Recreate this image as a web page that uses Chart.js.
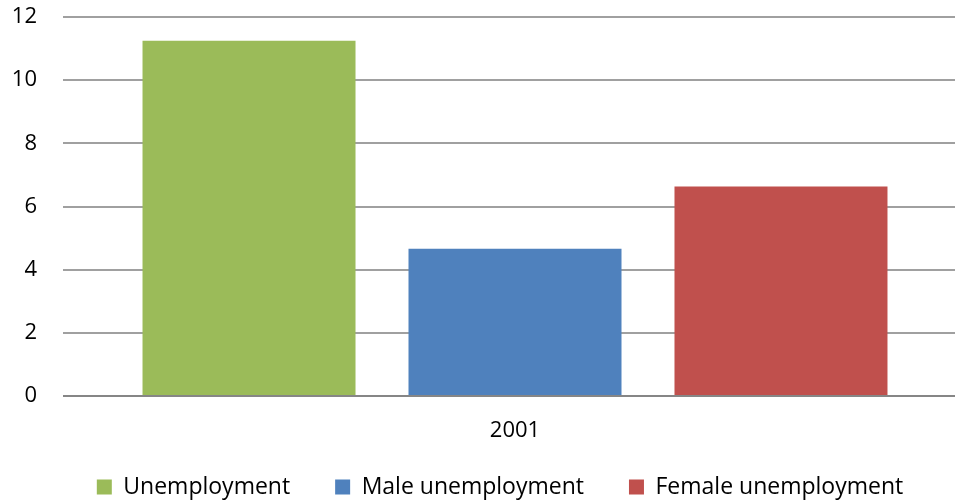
<!DOCTYPE html>
<html>
<head>
<meta charset="utf-8">
<script src="https://cdn.jsdelivr.net/npm/chart.js@4/dist/chart.umd.min.js"></script>
<style>
  html, body { margin: 0; padding: 0; background: #fff; overflow: hidden; width: 955px; height: 501px; }
  #wrap { position: relative; width: 967px; height: 501px; }
</style>
</head>
<body>
<div id="wrap"><canvas id="c" width="967" height="501"></canvas></div>
<script>
const categories = ["2001"];
const seriesNames = ["Unemployment", "Male unemployment", "Female unemployment"];
const unemployment = [11.25];
const maleUnemployment = [4.66];
const femaleUnemployment = [6.63];
const yTicks = [0, 2, 4, 6, 8, 10, 12];

const colors = ["#9BBB59", "#4F81BD", "#C0504D"];
const FONT = "'Open Sans', 'Liberation Sans', sans-serif";

// Nudge the legend into the spot it occupies in the reference (below the axis label).
const legendNudge = {
  id: 'legendNudge',
  afterLayout(chart) {
    const lg = chart.legend;
    if (!lg) return;
    lg.top -= 40.5;
    lg.left += 16.5;
    lg.right += 16.5;
  }
};

new Chart(document.getElementById('c'), {
  type: 'bar',
  data: {
    labels: categories,
    datasets: [
      { label: seriesNames[0], data: unemployment, backgroundColor: colors[0] },
      { label: seriesNames[1], data: maleUnemployment, backgroundColor: colors[1] },
      { label: seriesNames[2], data: femaleUnemployment, backgroundColor: colors[2] }
    ]
  },
  plugins: [legendNudge],
  options: {
    responsive: false,
    animation: false,
    devicePixelRatio: 1,
    layout: { padding: 0 },
    datasets: { bar: { categoryPercentage: 0.8827, barPercentage: 0.8008 } },
    scales: {
      x: {
        grid: { display: false, drawTicks: false },
        border: { display: false },
        afterFit: (axis) => { axis.height = 75; },
        ticks: { color: '#000', font: { family: FONT, size: 22 }, padding: 22 }
      },
      y: {
        min: 0, max: 12,
        afterBuildTicks: (axis) => { axis.ticks = yTicks.map(v => ({ value: v })); },
        afterFit: (axis) => { axis.width = 63; axis.paddingTop = 17; axis.paddingBottom = 13; },
        grid: {
          color: (ctx) => ctx.tick && ctx.tick.value === 0 ? '#868686' : '#A0A0A0',
          lineWidth: 2,
          drawTicks: false
        },
        border: { display: false },
        ticks: { color: '#000', font: { family: FONT, size: 22 }, padding: 26 }
      }
    },
    plugins: {
      legend: {
        position: 'bottom',
        maxHeight: 30,
        labels: {
          color: '#000',
          font: { family: FONT, size: 23 },
          boxWidth: 15, boxHeight: 15,
          padding: 45,
          useBorderRadius: false
        }
      },
      tooltip: { enabled: false }
    }
  }
});
</script>
</body>
</html>
